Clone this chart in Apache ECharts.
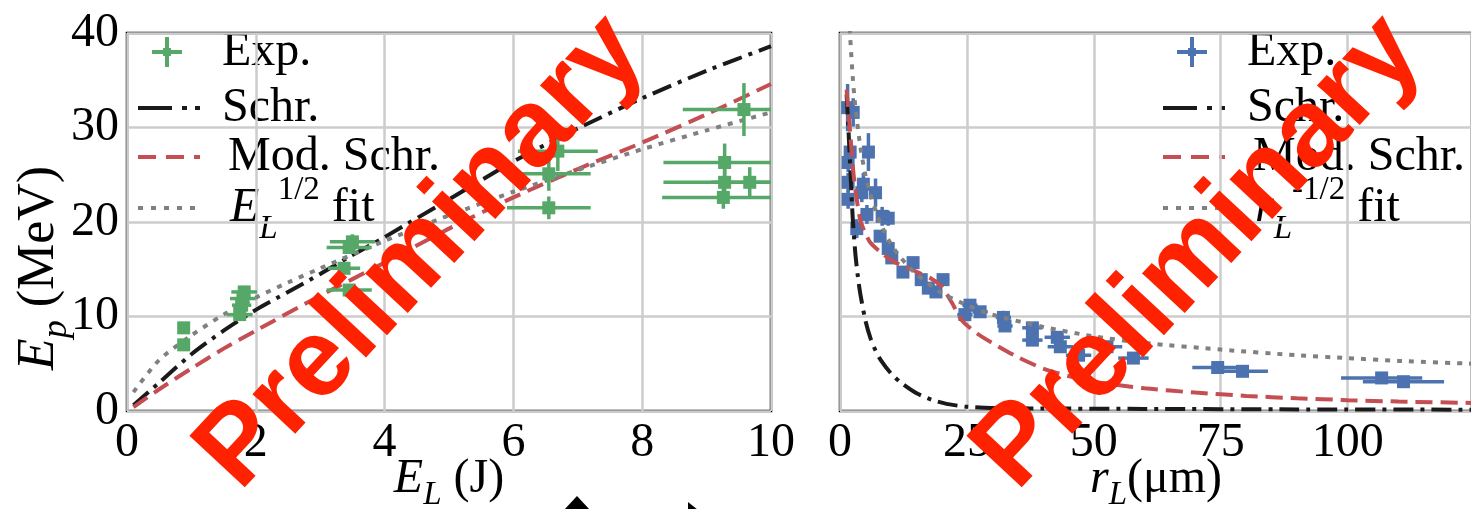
<!DOCTYPE html>
<html><head><meta charset="utf-8">
<script src="https://cdn.jsdelivr.net/npm/echarts@6/dist/echarts.min.js"></script>
<style>html,body{margin:0;padding:0;background:#fff;}#c{width:1471px;height:509px;}</style>
</head><body><div id="c"></div>
<script>
// ---------- data ----------
// left panel: [E_L (J), E_p (MeV), xerr, yerr]
const leftExp = [
  [0.88, 8.8, 0.05, 0.3], [0.88, 7.0, 0.05, 0.3],
  [1.82, 12.6, 0.2, 0.6], [1.80, 11.9, 0.2, 0.5], [1.78, 11.2, 0.15, 0.5], [1.75, 10.2, 0.2, 0.6],
  [3.50, 17.9, 0.35, 0.8], [3.45, 17.3, 0.35, 0.6], [3.37, 15.1, 0.25, 0.6], [3.45, 12.8, 0.35, 0.4],
  [6.69, 27.5, 0.62, 2.1], [6.55, 25.1, 0.65, 1.8], [6.55, 21.5, 0.65, 1.2],
  [9.58, 31.9, 0.95, 2.8], [9.28, 26.3, 0.95, 2.0], [9.28, 24.2, 0.95, 1.5], [9.67, 24.2, 0.6, 1.6], [9.26, 22.6, 0.95, 1.2]
];
const leftSchr = [[0.1,0.6],[0.5,3.0],[1,6.0],[1.5,8.5],[2,10.7],[2.5,12.6],[3,14.5],[3.5,16.5],[4,18.4],[5,22.4],[6,26.4],[7,29.9],[8,33.1],[9,36.0],[10,38.6]];
const leftModSchr = [[0.1,0.4],[0.5,2.3],[1,4.5],[1.5,6.6],[2,8.5],[3,12.2],[4,15.7],[5,19.3],[6,22.6],[7,25.6],[8,28.4],[9,31.4],[10,34.6]];
const leftFit = [[0.1,2.0],[0.5,5.4],[1,8.0],[1.5,10.2],[2,12.0],[2.5,13.6],[3,15.1],[4,18.0],[5,20.7],[6,23.2],[7,25.5],[8,27.7],[9,29.7],[10,31.6]];

// right panel: [r_L (um), E_p (MeV), xerr, yerr]
const rightExp = [
  [1.5,32.1,0.5,2.5],[2.6,31.6,0.5,1.5],[2.0,27.4,0.5,1.2],[5.6,27.4,0.7,2.0],[1.6,26.3,0.5,1.0],
  [1.6,24.2,0.5,1.0],[4.6,24.0,0.6,1.2],[1.6,22.4,0.5,1.0],[4.3,23.1,0.6,1.0],[7.0,23.1,0.6,1.5],
  [5.3,20.8,0.7,1.0],[8.3,20.6,0.8,1.0],[9.5,20.4,0.8,0.8],[3.3,19.3,0.6,1.0],[7.9,18.5,0.8,0.5],
  [9.5,17.2,0.8,0.8],[10.2,16.2,0.8,0.5],[14.4,15.7,1.0,0.6],[12.4,14.7,1.0,0.5],[16.0,13.9,1.0,0.5],
  [17.4,13.0,1.0,0.5],[18.9,12.6,1.2,0.5],[20.3,13.9,1.2,0.5],[24.6,10.2,1.5,0.5],[25.6,11.2,1.5,0.6],
  [27.6,10.5,1.5,0.5],[32.2,9.9,1.5,0.7],[32.5,9.0,1.5,0.6],[37.9,8.8,2,0.6],[37.9,7.5,2,0.6],
  [42.8,7.8,2.5,0.5],[43.4,6.8,2.5,0.5],[47.0,5.9,2.5,0.5],[52.6,6.8,3,0.5],[57.8,5.6,3,0.4],
  [74.4,4.6,5,0.5],[79.3,4.2,5,0.4],[106.7,3.5,8,0.5],[111.0,3.1,8,0.5]
];
const rightSchr = [[1.3,33.5],[1.6,30.5],[2,26],[2.5,20.5],[3,16.8],[3.5,14.3],[4,12.4],[5,9.6],[6,7.7],[7,6.4],[8,5.4],[10,4.0],[12,3.0],[15,1.9],[18,1.2],[21,0.75],[25,0.45],[30,0.32],[40,0.27],[60,0.22],[90,0.17],[125,0.14]];
const rightModSchr = [[1.3,34],[1.6,32],[2,29.5],[2.5,26],[3,23.5],[4,20.2],[5,18.8],[6,17.8],[8,16.8],[10,16.0],[12,15.4],[14,15.0],[16,14.5],[18,14.0],[20,13.2],[22,11.5],[24,9.6],[27,8.2],[30,7.2],[35,5.7],[40,4.5],[45,3.7],[50,3.1],[60,2.4],[70,1.95],[80,1.6],[90,1.35],[100,1.15],[110,1.0],[125,0.85]];
const rightFit = [[1.9,40.5],[2,39.6],[2.5,35.4],[3,32.3],[4,28],[5,25],[6,22.9],[8,19.8],[10,17.7],[12,16.2],[15,14.5],[20,12.5],[25,11.2],[30,10.2],[40,8.9],[50,7.9],[60,7.2],[75,6.5],[90,5.9],[100,5.6],[110,5.3],[125,5.0]];

const legendLeft = ['Exp.', 'Schr.', 'Mod. Schr.', '{i|E}{sub|L}{sup|1/2} fit'];
const legendRight = ['Exp.', 'Schr.', 'Mod. Schr.', '{i|r}{sub|L}{sup|-1/2} fit'];
const watermark = 'Preliminary';

// ---------- style ----------
const GREEN='#55A868', BLUE='#4C72B0', RED='#C44E52', GRAY='#808080', BLACK='#1a1a1a';
const SERIF='Liberation Serif';
const DASHDOT=[20,7,4,7], DASH=[17,8], DOT=[5,7];

function errRender(color){
  return function(params, api){
    const x=api.value(0), y=api.value(1), xe=api.value(2), ye=api.value(3);
    const c=api.coord([x,y]), l=api.coord([x-xe,y]), r=api.coord([x+xe,y]);
    const t=api.coord([x,y+ye]), b=api.coord([x,y-ye]);
    const cs=params.coordSys;
    return {type:'group', clipPath:{type:'rect', shape:{x:cs.x,y:cs.y,width:cs.width,height:cs.height}}, children:[
      {type:'line', shape:{x1:l[0],y1:l[1],x2:r[0],y2:r[1]}, style:{stroke:color,lineWidth:3.5}},
      {type:'line', shape:{x1:t[0],y1:t[1],x2:b[0],y2:b[1]}, style:{stroke:color,lineWidth:3.5}},
      {type:'rect', shape:{x:c[0]-6.5,y:c[1]-6.5,width:13,height:13}, style:{fill:color}}
    ]};
  };
}
function lineSeries(data, idx, color, dash){
  return {type:'line', xAxisIndex:idx, yAxisIndex:idx, data:data, symbol:'none', showSymbol:false,
    smooth:0.25, clip:true, lineStyle:{color:color,width:4,type:dash,cap:'butt'}, z:3, silent:true};
}
function makeRich(fs, drop){
  return {
    i:{fontFamily:SERIF,fontStyle:'italic',fontSize:fs,color:'#000'},
    sub:{fontFamily:SERIF,fontStyle:'italic',fontSize:Math.round(fs*0.69),color:'#000',verticalAlign:'bottom',padding:[0,0,-drop,0]},
    sup:{fontFamily:SERIF,fontSize:Math.round(fs*0.69),color:'#000',verticalAlign:'top',padding:[-10,0,0,0]}
  };
}
const richTxt = makeRich(48, 14);
const richName = makeRich(48, 9);
function axisCommon(){
  return {type:'value', axisLine:{show:false}, axisTick:{show:false},
    splitLine:{show:true,lineStyle:{color:'#cccccc',width:2.5}},
    axisLabel:{fontFamily:SERIF,fontSize:48,color:'#000',margin:8},
    nameMoveOverlap:false};
}
function legendGraphics(x0, tx, labels, expColor){
  const g=[];
  const ys=[52,108,157,208];
  const cx=x0+29;
  g.push({type:'line',shape:{x1:cx-15,y1:ys[0],x2:cx+15,y2:ys[0]},style:{stroke:expColor,lineWidth:4}});
  g.push({type:'line',shape:{x1:cx,y1:ys[0]-15,x2:cx,y2:ys[0]+15},style:{stroke:expColor,lineWidth:4}});
  g.push({type:'rect',shape:{x:cx-4,y:ys[0]-4,width:8,height:8},style:{fill:expColor}});
  g.push({type:'line',shape:{x1:x0,y1:ys[1],x2:x0+62,y2:ys[1]},style:{stroke:BLACK,lineWidth:4,lineDash:[34,10,5,8,5,40]}});
  g.push({type:'line',shape:{x1:x0,y1:ys[2],x2:x0+62,y2:ys[2]},style:{stroke:RED,lineWidth:4,lineDash:[18,10]}});
  g.push({type:'line',shape:{x1:x0,y1:ys[3],x2:x0+62,y2:ys[3]},style:{stroke:GRAY,lineWidth:4,lineDash:[5,8]}});
  const offs=[0,0,6,8];
  labels.forEach((t,k)=>{
    g.push({type:'text',x:tx+offs[k],y:ys[k],style:{text:t,fontFamily:SERIF,fontSize:48,fill:'#000',verticalAlign:'middle',align:'left',rich:richTxt}});
  });
  return g;
}

const chart = echarts.init(document.getElementById('c'), null, {renderer:'canvas'});
const gridBase = {top:33, height:378, show:true, borderColor:'#000', borderWidth:2.5, backgroundColor:'transparent', containLabel:false, outerBoundsMode:'none'};
const option = {
  animation:false,
  backgroundColor:'#fff',
  grid:[
    Object.assign({left:127, width:644}, gridBase),
    Object.assign({left:840, width:632}, gridBase)
  ],
  xAxis:[
    Object.assign(axisCommon(), {gridIndex:0, min:0, max:10, interval:2,
      name:'{i|E}{sub|L} (J)', nameLocation:'middle', nameGap:44,
      nameTextStyle:{fontFamily:SERIF,fontSize:48,color:'#000',rich:richName}}),
    Object.assign(axisCommon(), {gridIndex:1, min:0, max:124.5, interval:25,
      axisLabel:{fontFamily:SERIF,fontSize:48,color:'#000',margin:8,showMaxLabel:false},
      name:'{i|r}{sub|L}(μm)', nameLocation:'middle', nameGap:44,
      nameTextStyle:{fontFamily:SERIF,fontSize:48,color:'#000',rich:richName}})
  ],
  yAxis:[
    Object.assign(axisCommon(), {gridIndex:0, min:0, max:40, interval:10,
      name:'{i|E}{sub|p} (MeV)', nameLocation:'middle', nameGap:62, nameRotate:90,
      nameTextStyle:{fontFamily:SERIF,fontSize:52,color:'#000',rich:makeRich(52, 10),padding:[0,92,0,0]}}),
    Object.assign(axisCommon(), {gridIndex:1, min:0, max:40, interval:10, axisLabel:{show:false}})
  ],
  series:[
    lineSeries(leftSchr,0,BLACK,DASHDOT),
    lineSeries(leftModSchr,0,RED,DASH),
    lineSeries(leftFit,0,GRAY,DOT),
    {type:'custom', xAxisIndex:0, yAxisIndex:0, data:leftExp, renderItem:errRender(GREEN), z:4, silent:true},
    lineSeries(rightSchr,1,BLACK,DASHDOT),
    lineSeries(rightModSchr,1,RED,DASH),
    lineSeries(rightFit,1,GRAY,DOT),
    {type:'custom', xAxisIndex:1, yAxisIndex:1, data:rightExp, renderItem:errRender(BLUE), z:2, silent:true}
  ],
  graphic:[].concat(
    legendGraphics(138, 222, legendLeft, GREEN),
    legendGraphics(1163, 1247, legendRight, BLUE),
    [
      {type:'text', x:422, y:253, rotation:47*Math.PI/180, z:100,
        style:{text:watermark, font:'bold 110px "Liberation Sans", Arial, sans-serif', fill:'#FF2200', align:'center', verticalAlign:'middle'}},
      {type:'text', x:1199, y:253, rotation:47*Math.PI/180, z:100,
        style:{text:watermark, font:'bold 110px "Liberation Sans", Arial, sans-serif', fill:'#FF2200', align:'center', verticalAlign:'middle'}},
      {type:'polygon', shape:{points:[[564,510],[577,496],[590,510]]}, style:{fill:'#000'}},
      {type:'polygon', shape:{points:[[688,502],[698,510],[688,510]]}, style:{fill:'#000'}}
    ]
  )
};
chart.setOption(option);
</script>
</body></html>
